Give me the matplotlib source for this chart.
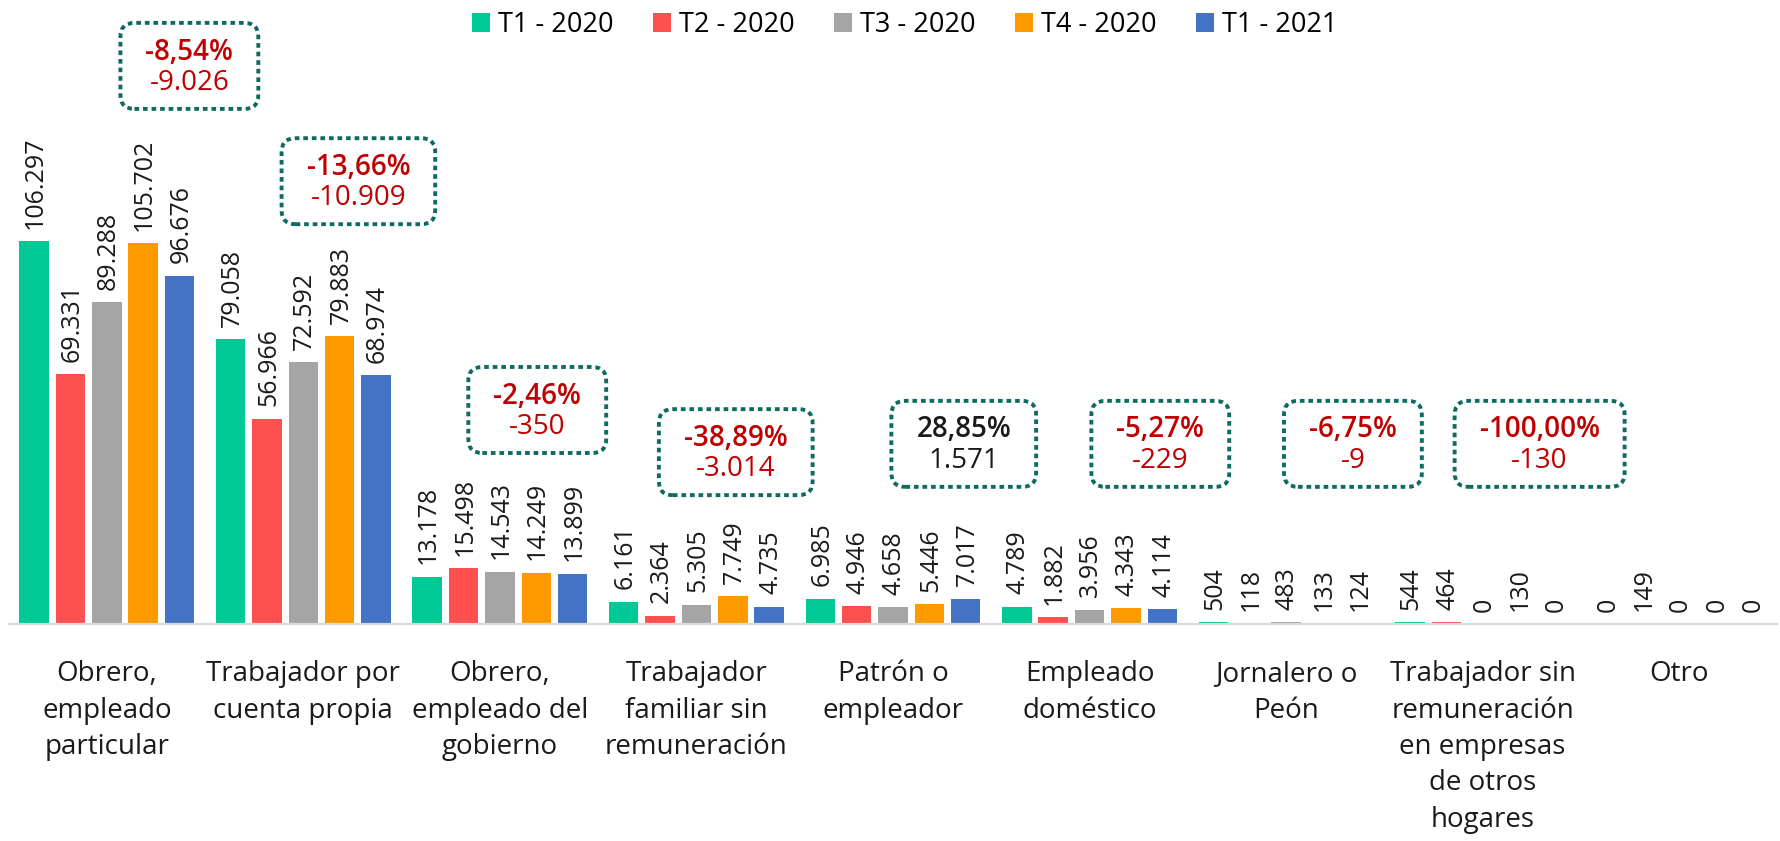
import matplotlib
matplotlib.use("Agg")
import matplotlib.pyplot as plt
import numpy as np
from matplotlib.patches import FancyBboxPatch

categories = [
    "Obrero,\nempleado\nparticular",
    "Trabajador por\ncuenta propia",
    "Obrero,\nempleado del\ngobierno",
    "Trabajador\nfamiliar sin\nremuneración",
    "Patrón o\nempleador",
    "Empleado\ndoméstico",
    "Jornalero o\nPeón",
    "Trabajador sin\nremuneración\nen empresas\nde otros\nhogares",
    "Otro",
]
series_names = ["T1 - 2020", "T2 - 2020", "T3 - 2020", "T4 - 2020", "T1 - 2021"]
t1_2020 = [106297, 79058, 13178, 6161, 6985, 4789, 504, 544, 0]
t2_2020 = [69331, 56966, 15498, 2364, 4946, 1882, 118, 464, 149]
t3_2020 = [89288, 72592, 14543, 5305, 4658, 3956, 483, 0, 0]
t4_2020 = [105702, 79883, 14249, 7749, 5446, 4343, 133, 130, 0]
t1_2021 = [96676, 68974, 13899, 4735, 7017, 4114, 124, 0, 0]
series = [t1_2020, t2_2020, t3_2020, t4_2020, t1_2021]
colors = ["#00C996", "#FF5050", "#A5A5A5", "#FF9900", "#4472C4"]

# change T1-2021 vs T4-2020, as printed on the chart
pct_labels = ["-8,54%", "-13,66%", "-2,46%", "-38,89%", "28,85%", "-5,27%", "-6,75%", "-100,00%"]

# annotation box placement (layout only)
box_x_off = [0.42, 0.28, 0.19, 0.20, 0.36, 0.36, 0.34, 0.29]
box_y = [154900, 122900, 59400, 47700, 50000, 50000, 50000, 50000]

plt.rcParams['font.family'] = ['Open Sans', 'DejaVu Sans']


def fmt_int(v):
    s = f"{abs(v):,}".replace(",", ".")
    return ("-" if v < 0 else "") + s


fig = plt.figure(figsize=(17.81, 8.41), dpi=100)
ax = fig.add_axes([0.0048, 0.258, 0.9932, 0.6855])
ax.set_xlim(-0.5, 8.5)
ax.set_ylim(0, 160000)

n = len(categories)
x = np.arange(n)
pitch = 0.185
width = 0.15
for j, (name, vals, c) in enumerate(zip(series_names, series, colors)):
    xs = x + (j - 2) * pitch
    ax.bar(xs, vals, width, color=c, label=name, linewidth=0)
    for xi, v in zip(xs, vals):
        ax.annotate(fmt_int(v), (xi, v), xytext=(1, 9), textcoords='offset points',
                    rotation=90, ha='center', va='bottom', fontsize=18,
                    color='#1a1a1a')

for s in ['top', 'left', 'right']:
    ax.spines[s].set_visible(False)
ax.spines['bottom'].set_color('#D9D9D9')
ax.spines['bottom'].set_linewidth(1.6)
ax.set_yticks([])
ax.set_xticks(x)
ax.set_xticklabels(categories, fontsize=20, color='#1a1a1a', linespacing=1.4)
ax.tick_params(axis='x', length=0, pad=26)

handles, labels = ax.get_legend_handles_labels()
fig.legend(handles, labels, loc='upper center', bbox_to_anchor=(0.508, 1.016), ncol=5,
           frameon=False, fontsize=19.5, handlelength=0.67, handleheight=0.67,
           handletextpad=0.3, columnspacing=1.45)

texts = []
for i in range(n - 1):
    diff = t1_2021[i] - t4_2020[i]
    col = '#C00000' if diff < 0 else '#1a1a1a'
    bx = i + box_x_off[i]
    by = box_y[i]
    t1 = ax.annotate(pct_labels[i], (bx, by), xytext=(0, 10), textcoords='offset points',
                     ha='center', va='center', fontsize=20, fontweight='semibold', color=col)
    t2 = ax.annotate(fmt_int(diff), (bx, by), xytext=(0, -12), textcoords='offset points',
                     ha='center', va='center', fontsize=20, color=col)
    texts.append((bx, by, t1, t2))

fig.canvas.draw()
renderer = fig.canvas.get_renderer()
for bx, by, t1, t2 in texts:
    w = max(t1.get_window_extent(renderer).width, t2.get_window_extent(renderer).width)
    cx, cy = ax.transData.transform((bx, by))
    bw = w + 50
    bh = 86
    patch = FancyBboxPatch((cx - bw / 2, cy - bh / 2), bw, bh,
                           boxstyle="round,pad=0,rounding_size=14",
                           transform=None, fill=False, edgecolor='#0D6B63',
                           linewidth=2.8, linestyle=(0, (1.2, 1.0)),
                           clip_on=False)
    patch.set_capstyle('butt')
    fig.add_artist(patch)

fig.savefig("out.png", dpi=100)
